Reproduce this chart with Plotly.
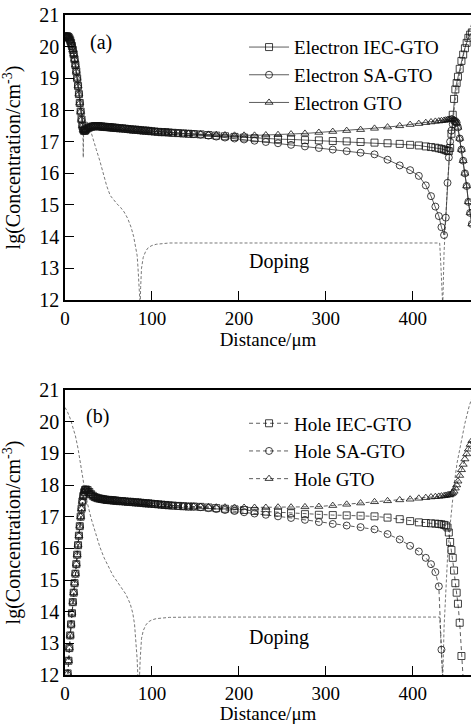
import plotly.graph_objects as go

# ---------------- data ----------------
# shared mesh positions (µm)
x_left = [0, 1, 2, 3, 4, 5, 6, 7, 8, 9, 10, 11, 12, 13, 14, 15, 16, 17, 18, 19, 20, 21, 22, 23, 24,
          26, 28, 30, 32, 34, 36, 38, 40, 42, 44, 46, 48, 50, 52, 54, 56, 58, 60,
          63, 66, 69, 72, 75, 78, 81, 84, 87, 90, 93, 96, 99,
          103, 107, 111, 115, 119, 124, 130, 136, 142, 148]
x_right = [156, 165, 174, 184, 195, 206, 218, 231, 245, 260, 276, 292, 308, 324, 340, 356, 371, 385,
           397, 407, 415, 421, 426, 430, 433, 436, 438, 440, 441.5, 443, 444.5, 446, 447.5, 449,
           450.5, 452, 454, 456, 458, 460, 462, 464, 466, 468]

# (a) electron concentration, lg(cm^-3)
e_left = [20.30, 20.32, 20.33, 20.32, 20.30, 20.26, 20.20, 20.12, 20.02, 19.90, 19.76, 19.60, 19.42,
          19.22, 19.00, 18.76, 18.50, 18.22, 17.95, 17.70, 17.50, 17.38, 17.34, 17.35, 17.38,
          17.42, 17.45, 17.47, 17.48, 17.49, 17.49, 17.49, 17.48, 17.48, 17.47, 17.47, 17.46, 17.46,
          17.45, 17.45, 17.44, 17.44, 17.43,
          17.42, 17.42, 17.41, 17.40, 17.39, 17.38, 17.38, 17.37, 17.36, 17.35, 17.35, 17.34, 17.33,
          17.32, 17.31, 17.30, 17.30, 17.29, 17.28, 17.27, 17.26, 17.25, 17.24]
e_iec_right = [17.23, 17.21, 17.19, 17.17, 17.15, 17.13, 17.11, 17.10, 17.08, 17.07, 17.05, 17.04,
               17.02, 17.01, 16.99, 16.97, 16.95, 16.93, 16.90, 16.88, 16.85, 16.83, 16.81, 16.79,
               16.77, 16.75, 16.73, 16.71, 16.70, 16.80, 17.25, 17.85, 18.35, 18.65, 18.85, 19.05,
               19.30, 19.55, 19.75, 19.95, 20.12, 20.28, 20.38, 20.45]
e_sa_right = [17.22, 17.19, 17.16, 17.13, 17.10, 17.07, 17.03, 16.99, 16.95, 16.90, 16.85, 16.80,
              16.75, 16.70, 16.65, 16.60, 16.43, 16.25, 16.10, 15.92, 15.62, 15.28, 14.95, 14.65,
              14.30, 14.05, 14.60, 15.70, 16.50, 17.00, 17.35, 17.55, 17.65, 17.65, 17.60, 17.45,
              17.10, 16.75, 16.40, 16.00, 15.60, 15.10, 14.75, 14.40]
e_gto_right = [17.24, 17.23, 17.22, 17.21, 17.20, 17.20, 17.20, 17.21, 17.22, 17.24, 17.26, 17.29,
               17.32, 17.35, 17.38, 17.42, 17.46, 17.50, 17.54, 17.57, 17.60, 17.62, 17.64, 17.65,
               17.66, 17.67, 17.68, 17.69, 17.70, 17.71, 17.72, 17.72, 17.70, 17.65, 17.58, 17.45,
               17.10, 16.75, 16.40, 16.00, 15.60, 15.10, 14.75, 14.40]

# (b) hole concentration, lg(cm^-3)
h_left = [10.5, 11.0, 11.6, 12.05, 12.45, 12.85, 13.25, 13.60, 13.95, 14.30, 14.60, 14.90, 15.20,
          15.50, 15.80, 16.10, 16.40, 16.70, 17.00, 17.25, 17.48, 17.65, 17.77, 17.84, 17.86,
          17.84, 17.78, 17.71, 17.66, 17.62, 17.60, 17.58, 17.57, 17.56, 17.55, 17.54, 17.53, 17.53,
          17.52, 17.52, 17.51, 17.51, 17.50,
          17.49, 17.49, 17.48, 17.47, 17.47, 17.46, 17.45, 17.45, 17.44, 17.43, 17.42, 17.42, 17.41,
          17.40, 17.39, 17.38, 17.37, 17.36, 17.35, 17.34, 17.33, 17.32, 17.32]
h_iec_right = [17.31, 17.29, 17.27, 17.25, 17.23, 17.21, 17.18, 17.16, 17.13, 17.11, 17.08, 17.06,
               17.05, 17.04, 17.03, 17.01, 16.97, 16.92, 16.86, 16.82, 16.80, 16.79, 16.78, 16.77,
               16.76, 16.74, 16.72, 16.66, 16.50, 16.20, 15.95, 15.70, 15.30, 14.90, 14.60, 14.25,
               13.65, 12.60, 11.80, 11.00, None, None, None, None]
h_sa_right = [17.30, 17.27, 17.24, 17.21, 17.18, 17.14, 17.10, 17.06, 17.01, 16.96, 16.90, 16.83,
              16.77, 16.72, 16.67, 16.60, 16.45, 16.28, 16.08, 15.90, 15.70, 15.50, 15.25, 14.80,
              12.80, 11.00, None, None, None, None, None, None, None, None, None, None,
              None, None, None, None, None, None, None, None]
h_gto_right = [17.32, 17.31, 17.30, 17.30, 17.29, 17.29, 17.29, 17.29, 17.30, 17.30, 17.31, 17.32,
               17.35, 17.39, 17.43, 17.47, 17.50, 17.53, 17.55, 17.58, 17.60, 17.62, 17.63, 17.64,
               17.65, 17.66, 17.67, 17.68, 17.69, 17.70, 17.72, 17.75, 17.80, 17.90, 18.00, 18.12,
               18.30, 18.48, 18.65, 18.82, 18.98, 19.13, 19.28, 19.40]

# doping profiles
dop_a_x = [0, 5, 10, 14, 17, 19, 20.5, 21, 21.5, 24, 27, 30, 33, 36, 40, 44, 48, 52, 56, 60, 64, 68,
           72, 76, 79, 81, 83, 84, 85, 85.7, 86.5, 87, 88, 90, 93, 96, 100, 105, 110, 120, 150, 250,
           350, 431, 432.5, 433.5, 434.5, 436, 438, 440, 442.5, 445, 448, 451, 455, 460, 465, 470]
dop_a_y = [20.3, 20.25, 19.9, 19.2, 18.5, 18.0, 17.6, 16.5, 17.5, 17.62, 17.6, 17.3, 17.0, 16.75,
           16.4, 16.0, 15.6, 15.3, 15.15, 15.03, 14.92, 14.78, 14.58, 14.3, 14.0, 13.75, 13.4, 13.0,
           12.4, 11.8, 11.8, 12.4, 13.0, 13.35, 13.55, 13.66, 13.72, 13.76, 13.78, 13.8, 13.8, 13.8,
           13.8, 13.8, 13.0, 11.8, 11.8, 13.5, 14.8, 15.7, 16.6, 17.4, 18.1, 18.7, 19.3, 19.95, 20.5,
           20.9]
dop_b_x = [0, 3, 6, 9, 12, 15, 17, 19, 21, 23, 26, 30, 35, 40, 45, 50, 55, 60, 65, 70, 75, 78, 80,
           82, 83, 84, 85.5, 86.5, 88, 90, 93, 96, 100, 105, 110, 120, 150, 250, 350, 431, 432.5,
           433.5, 434.5, 436, 438, 440, 442.5, 445, 448, 451, 455, 460, 465, 470]
dop_b_y = [20.45, 20.3, 20.1, 19.85, 19.55, 19.15, 18.8, 18.45, 18.1, 17.8, 17.4, 16.95, 16.5, 16.05,
           15.7, 15.4, 15.15, 14.95, 14.75, 14.55, 14.25, 13.95, 13.6, 13.0, 12.5, 11.8, 11.8, 12.5,
           13.15, 13.4, 13.58, 13.68, 13.74, 13.78, 13.8, 13.82, 13.83, 13.83, 13.83, 13.83, 13.0,
           11.8, 11.8, 13.5, 14.8, 15.7, 16.6, 17.4, 18.1, 18.7, 19.3, 19.95, 20.5, 20.9]

y_ticks = [12, 13, 14, 15, 16, 17, 18, 19, 20, 21]
x_ticks = [0, 100, 200, 300, 400]

names_a = ["Electron IEC-GTO", "Electron SA-GTO", "Electron GTO"]
names_b = ["Hole IEC-GTO", "Hole SA-GTO", "Hole GTO"]
symbols = ["square-open", "circle-open", "triangle-up-open"]

# ---------------- figure ----------------
FONT = "Liberation Serif"
fig = go.Figure()
x_all = x_left + x_right

series_a = [e_left + e_iec_right, e_left + e_sa_right, e_left + e_gto_right]
series_b = [h_left + h_iec_right, h_left + h_sa_right, h_left + h_gto_right]

fig.add_trace(go.Scatter(x=dop_a_x, y=dop_a_y, mode="lines", showlegend=False,
                         line=dict(color="#555", width=0.8, dash="3px,2px"),
                         xaxis="x", yaxis="y"))
fig.add_trace(go.Scatter(x=dop_b_x, y=dop_b_y, mode="lines", showlegend=False,
                         line=dict(color="#555", width=0.8, dash="3px,2px"),
                         xaxis="x2", yaxis="y2"))

for ys, nm, sym in zip(series_a, names_a, symbols):
    fig.add_trace(go.Scatter(
        x=x_all, y=ys, name=nm, mode="lines+markers", xaxis="x", yaxis="y", legend="legend",
        line=dict(color="#333", width=0.8),
        marker=dict(symbol=sym, size=7, color="#111", line=dict(width=0.8, color="#111"))))

for ys, nm, sym in zip(series_b, names_b, symbols):
    fig.add_trace(go.Scatter(
        x=x_all, y=ys, name=nm, mode="lines+markers", xaxis="x2", yaxis="y2", legend="legend2",
        line=dict(color="#333", width=0.8, dash="4px,3px"),
        marker=dict(symbol=sym, size=7, color="#111", line=dict(width=0.8, color="#111"))))

ax_common = dict(showline=True, linecolor="black", linewidth=1.5, ticks="inside",
                 tickcolor="black", ticklen=9, tickwidth=1.2, showgrid=False, zeroline=False,
                 automargin=False, ticklabeloverflow="allow",
                 tickfont=dict(family=FONT, size=20, color="black"))

xax = dict(ax_common, range=[0, 467], tickvals=x_ticks, mirror=True,
           tickfont=dict(family=FONT, size=19, color="black"),
           title=dict(text="Distance/μm", font=dict(family=FONT, size=19, color="black"),
                      standoff=1))
yax = dict(ax_common, range=[12, 21], tickvals=y_ticks, mirror=False,
           title=dict(text="lg(Concentration/cm<sup>-3</sup>)",
                      font=dict(family=FONT, size=20, color="black"), standoff=14))

leg_common = dict(font=dict(family=FONT, size=19, color="black"), bgcolor="rgba(0,0,0,0)",
                  borderwidth=0, itemwidth=40, xanchor="left", yanchor="top",
                  tracegroupgap=0)

fig.update_layout(
    width=471, height=724,
    margin=dict(l=65, r=0, t=15, b=49),
    paper_bgcolor="white", plot_bgcolor="white",
    xaxis=dict(xax, domain=[0, 1], anchor="y"),
    yaxis=dict(yax, domain=[0.5682, 1.0], anchor="x"),
    xaxis2=dict(xax, domain=[0, 1], anchor="y2"),
    yaxis2=dict(yax, domain=[0.0, 0.4318], anchor="x2"),
    legend=dict(leg_common, x=0.441, y=0.98),
    legend2=dict(leg_common, x=0.441, y=0.41),
    annotations=[
        dict(text="(a)", x=0.057, y=0.95, xref="x domain", yref="y domain", showarrow=False,
             font=dict(family=FONT, size=20, color="black")),
        dict(text="(b)", x=0.047, y=0.955, xref="x2 domain", yref="y2 domain", showarrow=False,
             font=dict(family=FONT, size=20, color="black")),
        dict(text="Doping", x=246, y=13.2, xref="x", yref="y", showarrow=False,
             font=dict(family=FONT, size=20, color="black")),
        dict(text="Doping", x=246, y=13.17, xref="x2", yref="y2", showarrow=False,
             font=dict(family=FONT, size=20, color="black")),
    ],
)

# remove the browser's default 8px page margin so the figure fills the window exactly
fig.write_html("out.html", config={"displayModeBar": False},
               post_script="document.body.style.margin='0px';")
